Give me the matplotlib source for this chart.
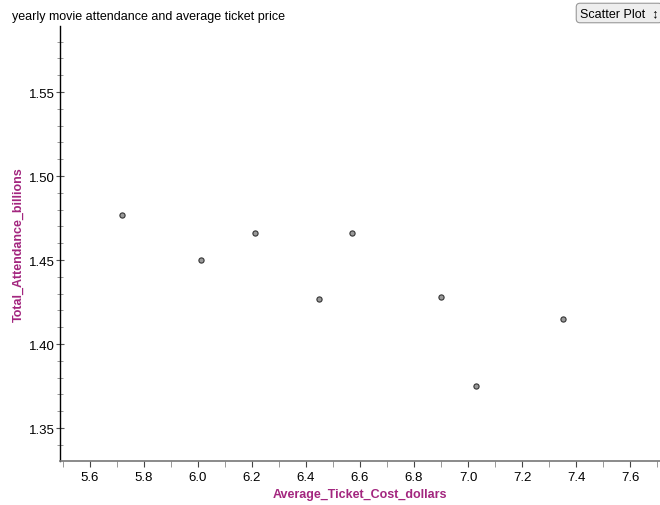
# yearly movie attendance vs average ticket price (scatter)

import matplotlib
matplotlib.use("Agg")
import matplotlib.pyplot as plt
from matplotlib.ticker import MultipleLocator, FormatStrFormatter

plt.rcParams['font.family'] = ['Liberation Sans', 'DejaVu Sans']

ticket_cost = [5.72, 6.01, 6.21, 6.45, 6.57, 6.90, 7.03, 7.35]
attendance = [1.477, 1.450, 1.466, 1.427, 1.466, 1.428, 1.375, 1.415]

title = "yearly movie attendance and average ticket price"
x_label = "Average_Ticket_Cost_dollars"
y_label = "Total_Attendance_billions"
label_color = "#a3267f"

fig = plt.figure(figsize=(6.6, 5.06), dpi=100)
ax = fig.add_axes([60 / 660, 44 / 506, 600 / 660, 435 / 506])

ax.scatter(ticket_cost, attendance, s=14, c="#999999",
           edgecolors="#333333", linewidths=0.8, zorder=3)

ax.set_xlim(5.49, 7.71)
ax.set_ylim(1.3304, 1.5893)

ax.xaxis.set_major_locator(MultipleLocator(0.2))
ax.xaxis.set_minor_locator(MultipleLocator(0.1))
ax.yaxis.set_major_locator(MultipleLocator(0.05))
ax.yaxis.set_minor_locator(MultipleLocator(0.01))
ax.xaxis.set_major_formatter(FormatStrFormatter('%.1f'))
ax.yaxis.set_major_formatter(FormatStrFormatter('%.2f'))

for s in ['top', 'right']:
    ax.spines[s].set_visible(False)
ax.spines['left'].set_color('black')
ax.spines['bottom'].set_color('#777777')
ax.spines['left'].set_linewidth(1.0)
ax.spines['bottom'].set_linewidth(1.2)

ax.tick_params(axis='y', which='major', direction='inout', length=6,
               width=0.8, color='#555555', labelsize=9.5, pad=1)
ax.tick_params(axis='y', which='minor', direction='inout', length=5,
               width=0.6, color='#888888')
ax.tick_params(axis='x', which='major', direction='out', length=4,
               width=0.8, color='#444444', labelsize=9.5, pad=3)
ax.tick_params(axis='x', which='minor', direction='out', length=4,
               width=0.6, color='#888888')

ax.set_xlabel(x_label, color=label_color, fontweight='bold', fontsize=9,
              labelpad=4)
ax.set_ylabel(y_label, color=label_color, fontweight='bold', fontsize=9,
              labelpad=3)

fig.text(12 / 660, 1 - 17 / 506, title, fontsize=9, va='center', ha='left')

# the chart-type dropdown in the corner
fig.text(580 / 660, 1 - 14 / 506, "Scatter Plot  \u2195", fontsize=9,
         va='center', ha='left',
         bbox=dict(boxstyle='round,pad=0.3', fc='#eeeeee', ec='#999999', lw=0.8))

fig.savefig("out.png", dpi=100)
